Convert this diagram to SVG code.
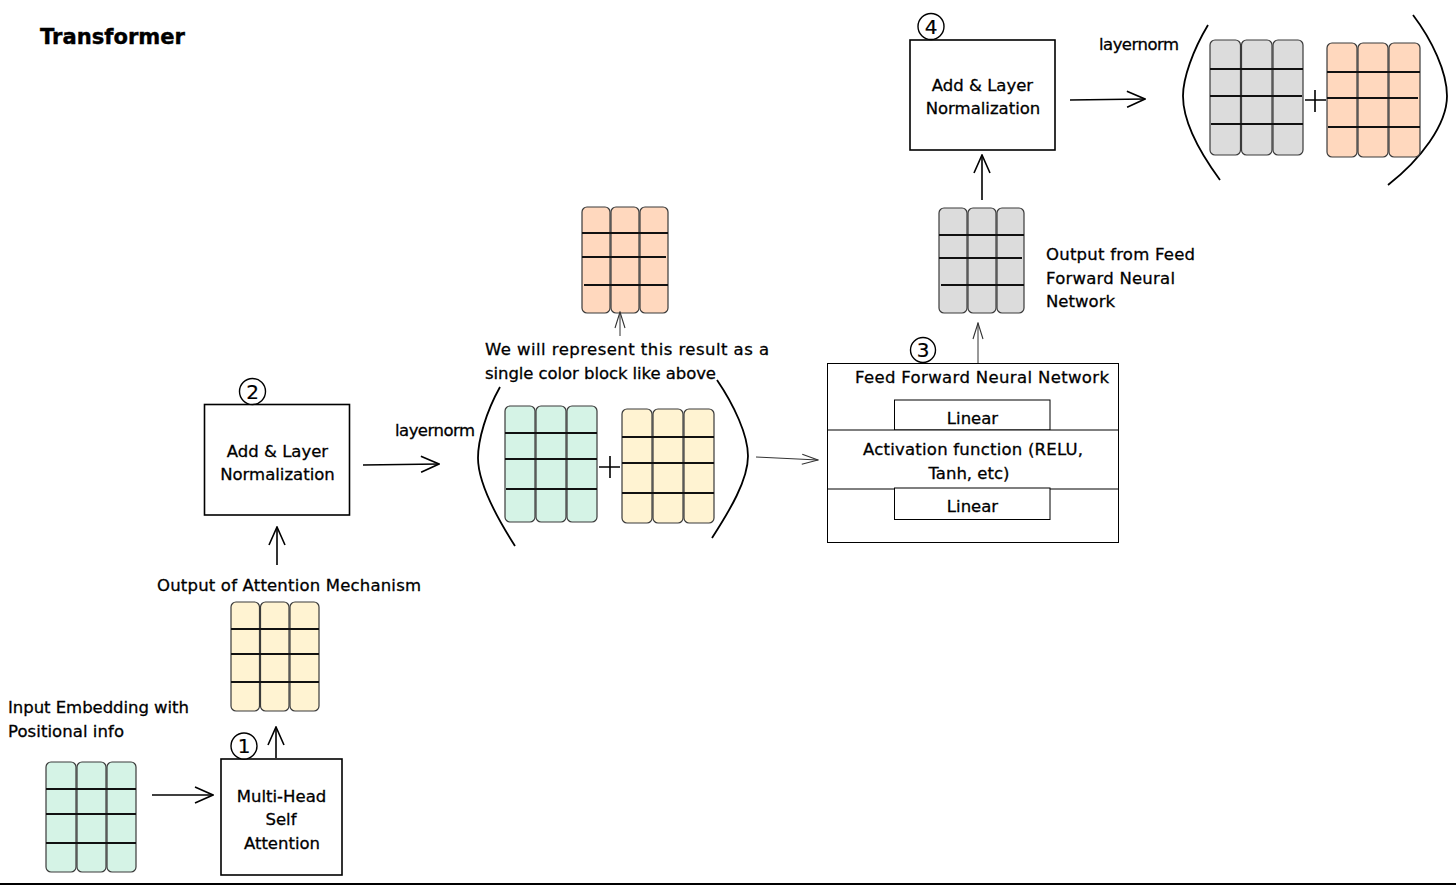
<svg xmlns="http://www.w3.org/2000/svg" width="1456" height="885" viewBox="0 0 1456 885">
<style>
text{font-family:"DejaVu Sans","Liberation Sans",sans-serif;font-size:16.5px;fill:#000;stroke:#000;stroke-width:0.3}
.title{font-weight:bold;font-size:21px;stroke-width:0.4}
.num{font-size:20px;stroke-width:0.2}
.box{fill:#fff;stroke:#000;stroke-width:1.6}
.thin{fill:#fff;stroke:#000;stroke-width:1}
.col{stroke:#3a3a3a;stroke-width:1.2}
.row{stroke:#111;stroke-width:2}
.g{fill:#d5f3e6}.y{fill:#fff3d2}.o{fill:#ffd8be}.gr{fill:#dcdcdc}
.conn{fill:none;stroke:#000;stroke-width:1.6}
.conn2{fill:none;stroke:#333;stroke-width:1}
.par{fill:none;stroke:#000;stroke-width:1.8}
.circ{fill:#fff;stroke:#000;stroke-width:1.4}
</style>
<defs>
<marker id="ah" viewBox="0 0 20 18" refX="19" refY="9" markerWidth="20" markerHeight="18" markerUnits="userSpaceOnUse" orient="auto">
<path d="M1,1 L19,9 L1,17" fill="none" stroke="#000" stroke-width="1.6"/>
</marker>
<marker id="ah2" viewBox="0 0 18 12" refX="17" refY="6" markerWidth="18" markerHeight="12" markerUnits="userSpaceOnUse" orient="auto">
<path d="M1,1 L17,6 L1,11" fill="none" stroke="#333" stroke-width="1.1"/>
</marker>
</defs>
<rect x="0" y="0" width="1456" height="885" fill="#fff"/>
<line x1="0" y1="884" x2="1456" y2="884" stroke="#000" stroke-width="2"/>

<text id="title" class="title" x="40" y="44" textLength="145" lengthAdjust="spacingAndGlyphs">Transformer</text>

<g id="input-embedding">
<g class="g">
<rect class="col" x="46" y="762" width="30" height="110" rx="5"/>
<rect class="col" x="77" y="762" width="29" height="110" rx="5"/>
<rect class="col" x="107" y="762" width="29" height="110" rx="5"/>
</g>
<line class="row" x1="46" y1="789" x2="136" y2="789"/>
<line class="row" x1="46" y1="814" x2="136" y2="814"/>
<line class="row" x1="46" y1="843" x2="136" y2="843"/>
<text x="8" y="713" textLength="181">Input Embedding with</text>
<text x="8" y="737" textLength="116">Positional info</text>
</g>

<g id="mhsa">
<rect class="box" x="221" y="759" width="121" height="116"/>
<text x="281.5" y="802" text-anchor="middle">Multi-Head</text>
<text x="281" y="825" text-anchor="middle">Self</text>
<text x="282" y="849" text-anchor="middle">Attention</text>
<circle class="circ" cx="244" cy="746" r="13"/>
<text class="num" x="244" y="753" text-anchor="middle">1</text>
</g>

<g id="attn-output">
<g class="y">
<rect class="col" x="231" y="602" width="28.5" height="109" rx="5"/>
<rect class="col" x="260.5" y="602" width="28.5" height="109" rx="5"/>
<rect class="col" x="290" y="602" width="29" height="109" rx="5"/>
</g>
<line class="row" x1="231" y1="629" x2="319" y2="629"/>
<line class="row" x1="231" y1="654" x2="319" y2="654"/>
<line class="row" x1="231" y1="682" x2="319" y2="682"/>
<text x="157" y="591" textLength="264">Output of Attention Mechanism</text>
</g>

<g id="addnorm2">
<rect class="box" x="204.5" y="404.5" width="145" height="110.5"/>
<text x="277.5" y="457" text-anchor="middle">Add &amp; Layer</text>
<text x="277.5" y="480" text-anchor="middle">Normalization</text>
<circle class="circ" cx="252.5" cy="391.5" r="13"/>
<text class="num" x="252.5" y="398.5" text-anchor="middle">2</text>
</g>

<text id="layernorm1" x="395" y="436" textLength="80">layernorm</text>

<g id="sum1">
<path class="par" d="M500,387 C486,412 478,440 478,458 C478,480 492,510 515,546"/>
<path class="par" d="M717,380 C734,405 748,435 748,456 C748,480 730,510 712,538"/>
<g class="g">
<rect class="col" x="505" y="406" width="30" height="116" rx="5"/>
<rect class="col" x="536" y="406" width="30" height="116" rx="5"/>
<rect class="col" x="567" y="406" width="30" height="116" rx="5"/>
</g>
<line class="row" x1="505" y1="433" x2="597" y2="433"/>
<line class="row" x1="505" y1="459" x2="597" y2="459"/>
<line class="row" x1="506" y1="489" x2="597" y2="489"/>
<g class="y">
<rect class="col" x="622" y="409" width="30" height="114" rx="5"/>
<rect class="col" x="653" y="409" width="30" height="114" rx="5"/>
<rect class="col" x="684" y="409" width="30" height="114" rx="5"/>
</g>
<line class="row" x1="622" y1="437" x2="714" y2="437"/>
<line class="row" x1="622" y1="463" x2="714" y2="463"/>
<line class="row" x1="622" y1="493" x2="714" y2="493"/>
<path d="M599,467 H620 M610,456 V478" stroke="#000" stroke-width="1.6" fill="none"/>
<text x="485" y="355" textLength="284">We will represent this result as a</text>
<text x="485" y="379" textLength="231">single color block like above</text>
</g>

<g id="result-block">
<g class="o">
<rect class="col" x="582" y="207" width="28" height="106" rx="5"/>
<rect class="col" x="611" y="207" width="28" height="106" rx="5"/>
<rect class="col" x="640" y="207" width="28" height="106" rx="5"/>
</g>
<line class="row" x1="582" y1="233" x2="668" y2="233"/>
<line class="row" x1="582" y1="257" x2="666" y2="257"/>
<line class="row" x1="584" y1="285" x2="668" y2="285"/>
</g>

<g id="ffn">
<rect class="thin" x="827.5" y="363.5" width="291" height="179"/>
<rect class="thin" x="894.5" y="400" width="155.5" height="30"/>
<rect class="thin" x="827.5" y="430" width="291" height="59"/>
<rect class="thin" x="894.5" y="488" width="155.5" height="31.5"/>
<text x="855" y="383" textLength="254">Feed Forward Neural Network</text>
<text x="972.5" y="424" text-anchor="middle">Linear</text>
<text x="863" y="455" textLength="220">Activation function (RELU,</text>
<text x="969" y="478.5" text-anchor="middle">Tanh, etc)</text>
<text x="972.5" y="512" text-anchor="middle">Linear</text>
<circle class="circ" cx="923" cy="350" r="12.5"/>
<text class="num" x="923" y="357" text-anchor="middle">3</text>
</g>

<g id="ffn-output">
<g class="gr">
<rect class="col" x="939" y="208" width="28" height="105" rx="5"/>
<rect class="col" x="968" y="208" width="28" height="105" rx="5"/>
<rect class="col" x="997" y="208" width="27" height="105" rx="5"/>
</g>
<line class="row" x1="939" y1="235" x2="1024" y2="235"/>
<line class="row" x1="939" y1="258" x2="1022" y2="258"/>
<line class="row" x1="941" y1="285" x2="1024" y2="285"/>
<text x="1046" y="260" textLength="149">Output from Feed</text>
<text x="1046" y="283.5" textLength="129">Forward Neural</text>
<text x="1046" y="307" textLength="69">Network</text>
</g>

<g id="addnorm4">
<rect class="box" x="910" y="40" width="145" height="110"/>
<text x="982.5" y="91" text-anchor="middle">Add &amp; Layer</text>
<text x="983" y="114" text-anchor="middle">Normalization</text>
<circle class="circ" cx="931" cy="26.5" r="13"/>
<text class="num" x="931" y="33.5" text-anchor="middle">4</text>
</g>

<text id="layernorm2" x="1099" y="50" textLength="80">layernorm</text>

<g id="sum2">
<path class="par" d="M1208,25 C1193,50 1183,78 1183,96 C1183,120 1198,150 1220,180"/>
<path class="par" d="M1413,15 C1432,40 1447,72 1447,96 C1447,125 1420,160 1388,185"/>
<g class="gr">
<rect class="col" x="1210" y="40" width="30.5" height="115" rx="5"/>
<rect class="col" x="1241.5" y="40" width="30.5" height="115" rx="5"/>
<rect class="col" x="1273" y="40" width="30" height="115" rx="5"/>
</g>
<line class="row" x1="1210" y1="69" x2="1303" y2="69"/>
<line class="row" x1="1210" y1="96" x2="1302" y2="96"/>
<line class="row" x1="1211" y1="124" x2="1303" y2="124"/>
<g class="o">
<rect class="col" x="1327" y="43" width="30" height="114" rx="5"/>
<rect class="col" x="1358" y="43" width="30" height="114" rx="5"/>
<rect class="col" x="1389" y="43" width="31" height="114" rx="5"/>
</g>
<line class="row" x1="1327" y1="72" x2="1420" y2="72"/>
<line class="row" x1="1327" y1="98" x2="1418" y2="98"/>
<line class="row" x1="1328" y1="127" x2="1420" y2="127"/>
<path d="M1305,100 H1326 M1315,90 V112" stroke="#000" stroke-width="1.6" fill="none"/>
</g>

<g id="connectors">
<line class="conn" x1="152" y1="795" x2="213" y2="795" marker-end="url(#ah)"/>
<line class="conn" x1="276" y1="758" x2="276" y2="727" marker-end="url(#ah)"/>
<line class="conn" x1="277" y1="565" x2="277" y2="527" marker-end="url(#ah)"/>
<line class="conn" x1="363" y1="465" x2="439" y2="464" marker-end="url(#ah)"/>
<line class="conn2" x1="756" y1="457" x2="818" y2="460" marker-end="url(#ah2)"/>
<line class="conn2" x1="620" y1="336" x2="620" y2="312" marker-end="url(#ah2)"/>
<line class="conn2" x1="978" y1="363" x2="978" y2="323" marker-end="url(#ah2)"/>
<line class="conn" x1="982" y1="200" x2="982" y2="155" marker-end="url(#ah)"/>
<line class="conn" x1="1070" y1="100" x2="1145" y2="99" marker-end="url(#ah)"/>
</g>
</svg>
